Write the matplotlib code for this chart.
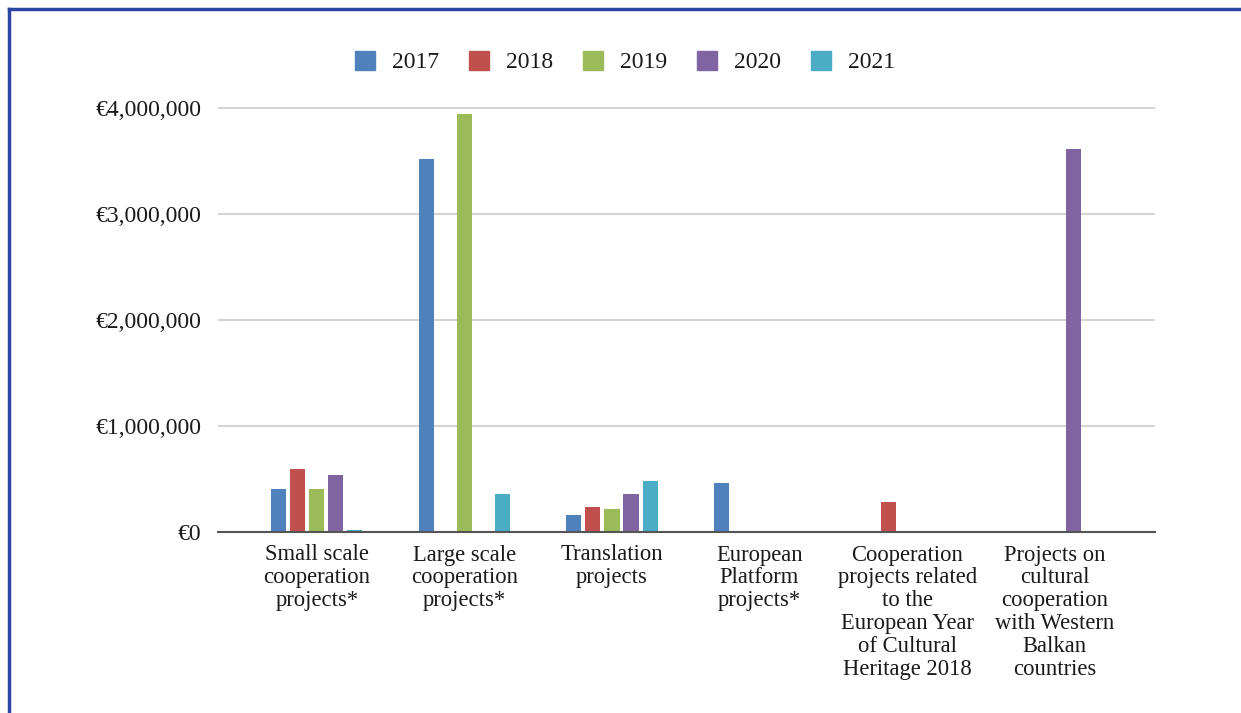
import numpy as np
import matplotlib
matplotlib.use("Agg")
import matplotlib.pyplot as plt
from matplotlib.lines import Line2D
from matplotlib.ticker import FuncFormatter

# Categories and series (EUR)
categories = [
    "Small scale\ncooperation\nprojects*",
    "Large scale\ncooperation\nprojects*",
    "Translation\nprojects",
    "European\nPlatform\nprojects*",
    "Cooperation\nprojects related\nto the\nEuropean Year\nof Cultural\nHeritage 2018",
    "Projects on\ncultural\ncooperation\nwith Western\nBalkan\ncountries",
]
years = ["2017", "2018", "2019", "2020", "2021"]
v2017 = [405000, 3515000, 163000, 465000, 0, 0]
v2018 = [594000, 0, 240000, 0, 286000, 0]
v2019 = [405000, 3943000, 220000, 0, 0, 0]
v2020 = [540000, 0, 360000, 0, 0, 3610000]
v2021 = [22000, 360000, 484000, 0, 0, 0]
series = [v2017, v2018, v2019, v2020, v2021]
colors = ["#4F81BD", "#C0504D", "#9BBB59", "#8064A2", "#4BACC6"]

plt.rcParams['font.family'] = ['Liberation Serif', 'DejaVu Serif']

fig = plt.figure(figsize=(12.41, 7.13), dpi=100)
ax = fig.add_axes([218 / 1241, 1 - 532 / 713, (1155 - 218) / 1241, (532 - 86) / 713])

x = np.arange(len(categories))
step = 0.129
width = 0.102
for i, (yr, vals, c) in enumerate(zip(years, series, colors)):
    ax.bar(x + (i - 2) * step, vals, width=width, color=c, label=yr, zorder=3)

ax.set_xlim(-0.67, 5.68)
ax.set_ylim(0, 4000000 * (532 - 86) / (532 - 107.5))
ax.set_yticks([0, 1000000, 2000000, 3000000, 4000000])
ax.yaxis.set_major_formatter(FuncFormatter(lambda v, p: "\u20ac{:,.0f}".format(v)))
ax.grid(axis='y', color='#d4d4d4', linewidth=1.5, zorder=0)
ax.set_axisbelow(True)
for s in ['top', 'right', 'left']:
    ax.spines[s].set_visible(False)
ax.spines['bottom'].set_color('#555555')
ax.spines['bottom'].set_linewidth(1.5)
ax.spines['bottom'].set_zorder(4)
ax.tick_params(axis='y', length=0, pad=12, labelsize=17, colors='#1a1a1a')
ax.tick_params(axis='x', length=0, pad=9)
ax.set_xticks(x)
ax.set_xticklabels(categories, fontsize=16.3, linespacing=1.12, color='#1a1a1a', va='top')

handles = [plt.Rectangle((0, 0), 1, 1, color=c) for c in colors]
fig.legend(handles, years, loc='center', bbox_to_anchor=(625 / 1241, 1 - 62 / 713),
           ncol=5, frameon=False, fontsize=17, handlelength=0.85, handleheight=0.85,
           columnspacing=1.27, handletextpad=0.72, labelcolor='#1a1a1a')

# blue frame (left and top)
fig.add_artist(Line2D([9 / 1241, 9 / 1241], [0, 1 - 9 / 713], transform=fig.transFigure,
                      color='#2b45a0', linewidth=2.5))
fig.add_artist(Line2D([9 / 1241, 1], [1 - 9 / 713, 1 - 9 / 713], transform=fig.transFigure,
                      color='#2b45a0', linewidth=2.5))

fig.savefig("out.png", dpi=100)
